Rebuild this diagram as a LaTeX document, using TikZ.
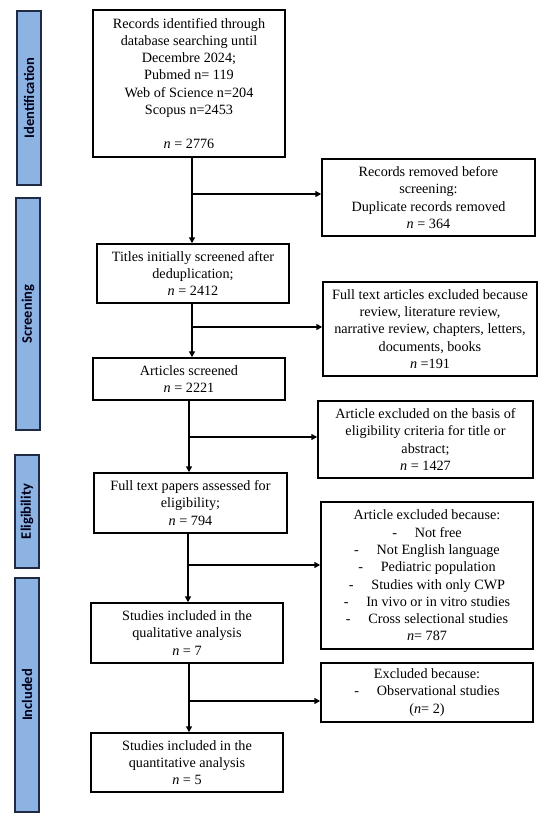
\documentclass[tikz,border=0pt]{standalone}
\usepackage{fontspec}
\setmainfont{Liberation Serif}
\newfontfamily\barfont{Carlito}
\usetikzlibrary{arrows.meta,calc}
\definecolor{barblue}{HTML}{8DB3E2}
\definecolor{barline}{HTML}{1F2A44}
\newcommand{\dashitem}{-\hspace{1.25em}}
\tikzset{
  box/.style={draw=black, line width=1.5pt, fill=white, align=center, inner sep=1pt,
    font=\fontsize{14.2}{17.3}\selectfont},
  phase/.style={draw=barline, line width=1.5pt, fill=barblue, minimum width=24pt,
    inner sep=0pt},
  phasetext/.style={rotate=90, font=\barfont\bfseries\fontsize{14.5}{16}\selectfont, text=black!90!blue},
  arr/.style={line width=1.5pt, -{Triangle[length=6pt,width=6pt]}},
}
\begin{document}
\begin{tikzpicture}[x=1pt,y=-1pt]
\useasboundingbox (0,0) rectangle (550,820);
% phase bars
\node[phase, minimum height=174pt] (p1) at (29,98) {};
\node[phasetext] (t1) at (p1.center) {Identification};
\node[phase, minimum height=232pt] (p2) at (28,314) {};
\node[phasetext] (t2) at (p2.center) {Screening};
\node[phase, minimum height=113pt] (p3) at (27,511.5) {};
\node[phasetext] (t3) at (p3.center) {Eligibility};
\node[phase, minimum height=234pt] (p4) at (27,695) {};
\node[phasetext] (t4) at (p4.center) {Included};
% main boxes
\node[box, minimum width=192pt, minimum height=147pt] (b1) at (189,83.5)
  {Records identified through\\database searching until\\Decembre 2024;\\Pubmed n= 119\\Web of Science n=204\\Scopus n=2453\\[17pt]\textit{n} = 2776};
\node[box, minimum width=192pt, minimum height=59pt] (b2) at (193,273.5)
  {Titles initially screened after\\deduplication;\\\textit{n} = 2412};
\node[box, minimum width=192pt, minimum height=42pt] (b3) at (189,379)
  {Articles screened\\\textit{n} = 2221};
\node[box, minimum width=193pt, minimum height=60pt] (b4) at (190.5,503)
  {Full text papers assessed for\\eligibility;\\\textit{n} = 794};
\node[box, minimum width=192pt, minimum height=60pt] (b5) at (187,633)
  {Studies included in the\\qualitative analysis\\\textit{n} = 7};
\node[box, minimum width=192pt, minimum height=59pt] (b6) at (187,762.5)
  {Studies included in the\\quantitative analysis\\\textit{n} = 5};
% right boxes
\node[box, minimum width=213pt, minimum height=77pt] (r1) at (428.5,197.5)
  {Records removed before\\screening:\\Duplicate records removed\\\textit{n} = 364};
\node[box, minimum width=214pt, minimum height=94pt] (r2) at (430,329)
  {Full text articles excluded because\\review, literature review,\\narrative review, chapters, letters,\\documents, books\\\textit{n} =191};
\node[box, minimum width=215pt, minimum height=77pt] (r3) at (425.5,439.5)
  {Article excluded on the basis of\\eligibility criteria for title or\\abstract;\\\textit{n} = 1427};
\node[box, minimum width=212pt, minimum height=147pt] (r4) at (427,575.5)
  {Article excluded because:\\\dashitem Not free\\\dashitem Not English language\\\dashitem Pediatric population\\\dashitem Studies with only CWP\\\dashitem In vivo or in vitro studies\\\dashitem Cross selectional studies\\\textit{n}= 787};
\node[box, minimum width=212pt, minimum height=59pt] (r5) at (427,692.5)
  {Excluded because:\\\dashitem Observational studies\\(\textit{n}= 2)};
% junctions
\coordinate (j1) at (192,194);
\coordinate (j2) at (192,327);
\coordinate (j3) at (189,437);
\coordinate (j4) at (188,565);
\coordinate (j5) at (189,701);
% connectors
\draw[arr] (b1.south -| j1) -- (b2.north -| j1);
\draw[arr] (j1) -- (j1 -| r1.west);
\draw[arr] (b2.south -| j2) -- (b3.north -| j2);
\draw[arr] (j2) -- (j2 -| r2.west);
\draw[arr] (b3.south -| j3) -- (b4.north -| j3);
\draw[arr] (j3) -- (j3 -| r3.west);
\draw[arr] (b4.south -| j4) -- (b5.north -| j4);
\draw[arr] (j4) -- (j4 -| r4.west);
\draw[arr] (b5.south -| j5) -- (b6.north -| j5);
\draw[arr] (j5) -- (j5 -| r5.west);
\end{tikzpicture}
\end{document}
